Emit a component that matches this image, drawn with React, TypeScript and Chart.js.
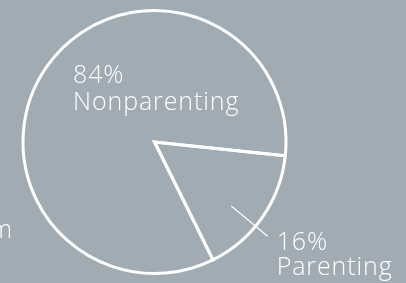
import React, { useEffect, useRef } from "react";
import { Chart, registerables } from "chart.js";

Chart.register(...registerables);

const categories = ["Parenting", "Nonparenting"];
const values = [16, 84];
const percentLabels = ["16%", "84%"];
const sideText = "m";

const BG = "#a1abb3";
const FG = "#ffffff";
const FONT = '300 25px "Open Sans", sans-serif';

export default function App() {
  const ref = useRef<HTMLCanvasElement>(null);

  useEffect(() => {
    document.body.style.margin = "0";
    document.body.style.background = BG;
    const canvas = ref.current;
    if (!canvas) return;

    const labelPlugin = {
      id: "pieLabels",
      afterDatasetsDraw(chart: any) {
        const ctx = chart.ctx as CanvasRenderingContext2D;
        const meta = chart.getDatasetMeta(0);
        const arcP = meta.data[0] as any;
        const p = arcP.getProps(["x", "y", "outerRadius", "startAngle", "endAngle"], true);
        const cx = p.x;
        const cy = p.y;
        const r = p.outerRadius;
        const mid = (p.startAngle + p.endAngle) / 2 + (5 * Math.PI) / 180;
        const x1 = cx + Math.cos(mid) * r * 0.76;
        const y1 = cy + Math.sin(mid) * r * 0.76;
        const x2 = cx + Math.cos(mid) * r * 1.12;
        const y2 = cy + Math.sin(mid) * r * 1.12;
        ctx.save();
        ctx.strokeStyle = FG;
        ctx.lineWidth = 1.2;
        ctx.beginPath();
        ctx.moveTo(x1, y1);
        ctx.lineTo(x2, y2);
        ctx.stroke();

        ctx.fillStyle = FG;
        ctx.font = FONT;
        (ctx as any).letterSpacing = "0.9px";
        ctx.textBaseline = "alphabetic";
        ctx.textAlign = "left";
        ctx.fillText(percentLabels[0], x2 + 9, y2 + 14);
        ctx.fillText(categories[0], x2 + 9, y2 + 39);

        ctx.fillText(percentLabels[1], cx - 81.5, cy - 59);
        ctx.fillText(categories[1], cx - 81.5, cy - 32);

        ctx.textAlign = "right";
        ctx.fillText(sideText, 13, cy + 96);
        ctx.restore();
      },
    };

    const chart = new Chart(canvas, {
      type: "pie",
      data: {
        labels: categories,
        datasets: [
          {
            data: values,
            backgroundColor: "rgba(0,0,0,0)",
            borderColor: FG,
            borderWidth: 3,
            borderJoinStyle: "miter",
          } as any,
        ],
      },
      options: {
        responsive: false,
        animation: false,
        rotation: 96,
        layout: { padding: { left: 20, right: 117, top: 9, bottom: 8 } },
        plugins: {
          legend: { display: false },
          tooltip: { enabled: false },
        },
      },
      plugins: [labelPlugin],
    });

    return () => chart.destroy();
  }, []);

  return (
    <div style={{ width: 406, height: 283, background: BG }}>
      <canvas ref={ref} width={406} height={283} style={{ display: "block" }} />
    </div>
  );
}
